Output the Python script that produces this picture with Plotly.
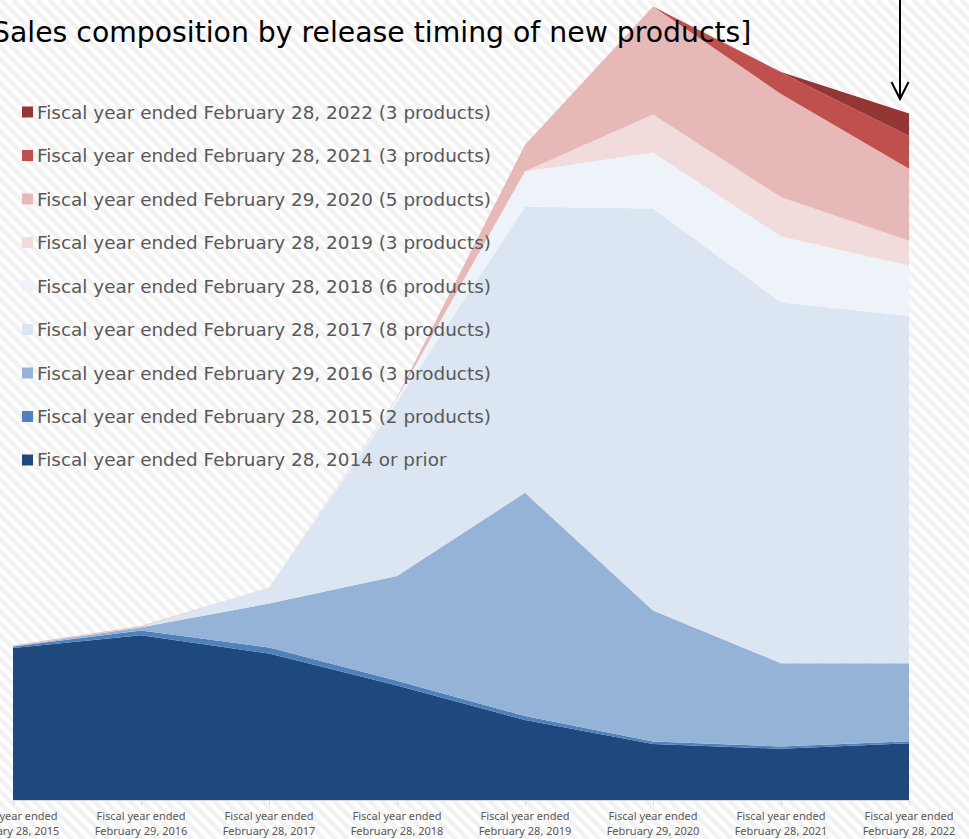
import plotly.graph_objects as go

# Fiscal years on the x axis
categories = [
    "Fiscal year ended<br>February 28, 2015",
    "Fiscal year ended<br>February 29, 2016",
    "Fiscal year ended<br>February 28, 2017",
    "Fiscal year ended<br>February 28, 2018",
    "Fiscal year ended<br>February 28, 2019",
    "Fiscal year ended<br>February 29, 2020",
    "Fiscal year ended<br>February 28, 2021",
    "Fiscal year ended<br>February 28, 2022",
]

# Series, bottom of the stack first
series_names = [
    "Fiscal year ended February 28, 2014 or prior",
    "Fiscal year ended February 28, 2015 (2 products)",
    "Fiscal year ended February 29, 2016 (3 products)",
    "Fiscal year ended February 28, 2017 (8 products)",
    "Fiscal year ended February 28, 2018 (6 products)",
    "Fiscal year ended February 28, 2019 (3 products)",
    "Fiscal year ended February 29, 2020 (5 products)",
    "Fiscal year ended February 28, 2021 (3 products)",
    "Fiscal year ended February 28, 2022 (3 products)",
]

sales_2014_prior = [19.0, 20.6, 18.3, 14.3, 10.0, 7.0, 6.4, 7.1]
sales_2015 = [0.2, 0.6, 0.75, 0.6, 0.5, 0.3, 0.3, 0.25]
sales_2016 = [0.0, 0.4, 5.5, 13.1, 27.9, 16.4, 10.4, 9.75]
sales_2017 = [0.0, 0.05, 2.0, 21.75, 35.75, 50.25, 45.1, 43.4]
sales_2018 = [0.0, 0.0, 0.0, 0.5, 4.4, 7.0, 8.25, 6.3]
sales_2019 = [0.0, 0.0, 0.0, 0.0, 0.05, 4.75, 4.9, 3.1]
sales_2020 = [0.1, 0.1, 0.0, 0.1, 3.3, 13.5, 12.9, 9.0]
sales_2021 = [0.0, 0.0, 0.0, 0.0, 0.0, 0.0, 2.7, 4.1]
sales_2022 = [0.0, 0.0, 0.0, 0.0, 0.0, 0.0, 0.05, 2.8]

series_values = [
    sales_2014_prior, sales_2015, sales_2016, sales_2017, sales_2018,
    sales_2019, sales_2020, sales_2021, sales_2022,
]

series_colors = [
    "#1f497d", "#4f81bd", "#95b3d7", "#dce6f2", "#eef3f9",
    "#f2dcdb", "#e6b9b8", "#c0504d", "#943634",
]

title_text = "[Sales composition by release timing of new products]"

W, H = 969, 839
ML, MR, MT, MB = 13, 60, 0, 39
PW, PH = W - ML - MR, H - MT - MB
FONT = "DejaVu Sans"
TICK_FONT = "Noto Sans"


def px_x(x):
    return (x - ML) / PW


def px_y(y):
    return (MT + PH - y) / PH


fig = go.Figure()
for name, vals, col in zip(series_names, series_values, series_colors):
    fig.add_trace(go.Scatter(
        x=categories, y=vals, name=name, stackgroup="one", mode="none",
        fillcolor=col, showlegend=False, hoverinfo="x+y+name",
    ))

shapes = []

# Diagonal striped backdrop
period = 12.0
parts = []
c = -H - period
while c < W + period:
    parts.append(f"M{px_x(c):.5f},{px_y(0):.5f} L{px_x(c + H):.5f},{px_y(H):.5f}")
    c += period
shapes.append(dict(
    type="path", xref="paper", yref="paper", layer="below",
    path=" ".join(parts), line=dict(color="#f2f2f2", width=4.5),
))

# Legend drawn top-down (latest year on top)
annotations = []
row0, row_gap = 112, 43.5
for i, (name, col) in enumerate(zip(series_names[::-1], series_colors[::-1])):
    yc = row0 + i * row_gap
    shapes.append(dict(
        type="rect", xref="paper", yref="paper", layer="above",
        x0=px_x(22), x1=px_x(33), y0=px_y(yc - 5.5), y1=px_y(yc + 5.5),
        fillcolor=col, line=dict(width=0),
    ))
    annotations.append(dict(
        xref="paper", yref="paper", x=px_x(35), y=px_y(yc),
        xanchor="left", yanchor="middle", text=name, showarrow=False,
        font=dict(family=FONT, size=18.4, color="#595959"),
    ))

# Title
annotations.append(dict(
    xref="paper", yref="paper", x=px_x(753), y=px_y(32),
    xanchor="right", yanchor="middle", text=title_text, showarrow=False,
    font=dict(family=FONT, size=28.3, color="#000000"),
))

# Pointer arrow above the latest fiscal year
shapes.append(dict(
    type="path", xref="paper", yref="paper", layer="above",
    path=(f"M{px_x(900)},{px_y(-2)} L{px_x(900)},{px_y(99)} "
          f"M{px_x(891.5)},{px_y(82)} L{px_x(900)},{px_y(99)} L{px_x(908.5)},{px_y(82)}"),
    line=dict(color="#000000", width=2),
))

fig.update_layout(
    width=W, height=H,
    margin=dict(l=ML, r=MR, t=MT, b=MB, autoexpand=False),
    paper_bgcolor="#ffffff", plot_bgcolor="rgba(0,0,0,0)",
    showlegend=False, shapes=shapes, annotations=annotations,
    xaxis=dict(
        type="category", range=[0, len(categories) - 1], showgrid=False,
        automargin=False,
        showline=True, linecolor="#d9d9d9", linewidth=1,
        ticks="outside", ticklen=4, tickcolor="#d9d9d9",
        tickfont=dict(family=TICK_FONT, size=11, color="#595959"),
        ticklabelstandoff=2,
        fixedrange=True,
    ),
    yaxis=dict(range=[0, 100], visible=False, fixedrange=True, automargin=False),
)

fig.write_html("out.html")
